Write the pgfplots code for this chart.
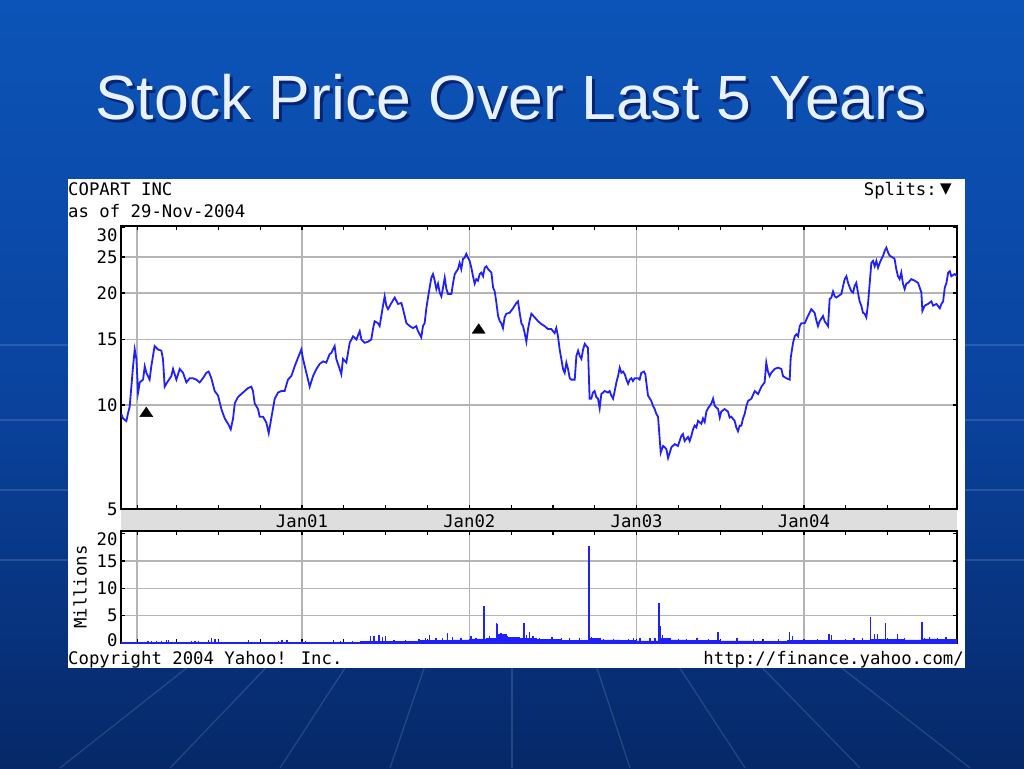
\documentclass[border=0pt]{standalone}
\usepackage{fontspec}
\setmainfont{Liberation Sans}
\newfontfamily\ymono{DejaVu Sans Mono}
\newfontfamily\dejavu{DejaVu Sans}
\usepackage{pgfplots}
\usepackage{pgfplotstable}
\pgfplotsset{compat=1.18}
\definecolor{bgtop}{RGB}{12,84,184}
\definecolor{bgmid}{RGB}{10,68,160}
\definecolor{bgbot}{RGB}{6,40,104}
\definecolor{yblue}{RGB}{32,32,250}
\definecolor{ygrid}{RGB}{180,180,180}
\definecolor{yband}{RGB}{222,222,222}
\definecolor{titlecol}{RGB}{232,242,255}
\newcommand{\yf}{\ymono\fontsize{17.3}{20}\selectfont}

\pgfplotstableread{
year price
1999.920 9.46
1999.930 9.2
1999.950 9.05
1999.960 9.5
1999.970 9.9
1999.980 11.2
1999.990 12.7
2000.000 14.1
2000.010 13.3
2000.020 10.8
2000.030 11.5
2000.050 11.7
2000.060 12.7
2000.070 12.2
2000.089 11.7
2000.099 12.7
2000.119 14.4
2000.139 14.1
2000.159 14.0
2000.169 13.3
2000.179 11.2
2000.199 11.6
2000.219 11.96
2000.229 12.5
2000.249 11.7
2000.269 12.5
2000.289 12.2
2000.309 11.5
2000.329 11.8
2000.348 11.8
2000.368 11.7
2000.388 11.5
2000.408 11.8
2000.428 12.2
2000.442 12.3
2000.458 11.8
2000.478 10.9
2000.498 10.6
2000.518 9.75
2000.538 9.2
2000.558 8.9
2000.574 8.6
2000.588 9.2
2000.598 10.1
2000.617 10.5
2000.637 10.7
2000.657 10.9
2000.677 11.1
2000.697 11.2
2000.707 10.9
2000.717 10.1
2000.737 9.75
2000.747 9.3
2000.767 9.3
2000.787 8.96
2000.801 8.4
2000.817 9.25
2000.837 10.4
2000.857 10.8
2000.876 10.9
2000.896 10.9
2000.916 11.7
2000.936 11.96
2000.956 12.7
2000.976 13.4
2000.996 14.1
2001.006 13.3
2001.026 12.2
2001.046 11.2
2001.066 11.96
2001.086 12.5
2001.106 12.9
2001.126 13.1
2001.145 13.0
2001.165 13.7
2001.175 13.8
2001.185 14.1
2001.195 14.4
2001.205 13.3
2001.225 12.5
2001.235 12.1
2001.245 13.3
2001.265 13.0
2001.285 14.7
2001.305 15.3
2001.325 15.0
2001.345 15.8
2001.355 15.0
2001.375 14.7
2001.395 14.8
2001.414 15.0
2001.424 16.0
2001.434 16.8
2001.454 16.6
2001.464 16.3
2001.474 17.35
2001.484 18.5
2001.494 19.6
2001.504 18.5
2001.514 18.1
2001.534 18.8
2001.554 19.45
2001.574 18.7
2001.594 18.8
2001.604 18.1
2001.624 16.6
2001.644 16.3
2001.663 16.1
2001.683 16.3
2001.693 15.8
2001.713 15.2
2001.723 16.3
2001.733 16.6
2001.743 18.2
2001.753 19.45
2001.763 20.7
2001.773 22.0
2001.783 22.5
2001.793 21.6
2001.803 20.5
2001.813 21.2
2001.823 20.05
2001.833 19.6
2001.843 20.7
2001.853 22.0
2001.863 20.5
2001.873 19.9
2001.893 19.9
2001.903 21.3
2001.913 22.5
2001.932 23.2
2001.942 24.1
2001.952 23.2
2001.962 24.7
2001.972 24.9
2001.982 25.5
2001.992 24.9
2002.002 24.4
2002.012 23.4
2002.022 22.2
2002.032 21.2
2002.042 21.8
2002.052 21.6
2002.062 22.5
2002.072 22.7
2002.082 22.2
2002.092 23.4
2002.102 23.6
2002.112 23.2
2002.132 22.7
2002.142 20.7
2002.152 20.2
2002.162 18.8
2002.172 17.35
2002.182 16.8
2002.191 16.6
2002.201 16.1
2002.211 17.2
2002.221 17.6
2002.241 17.7
2002.261 18.2
2002.281 18.8
2002.291 19.0
2002.301 17.7
2002.311 16.6
2002.321 16.3
2002.331 15.6
2002.341 14.8
2002.351 16.0
2002.361 16.9
2002.371 17.6
2002.391 17.2
2002.411 16.8
2002.431 16.5
2002.450 16.3
2002.470 16.0
2002.490 16.0
2002.510 15.6
2002.520 16.1
2002.530 15.3
2002.540 14.1
2002.550 13.3
2002.560 12.5
2002.570 12.2
2002.580 13.0
2002.590 12.5
2002.600 11.8
2002.610 11.7
2002.630 11.7
2002.640 13.55
2002.650 14.0
2002.660 13.55
2002.670 13.3
2002.680 14.1
2002.690 14.6
2002.700 14.4
2002.709 14.25
2002.719 10.4
2002.729 10.4
2002.739 10.8
2002.749 10.9
2002.759 10.5
2002.769 10.4
2002.779 9.8
2002.789 10.7
2002.809 10.9
2002.829 10.8
2002.839 10.9
2002.849 10.6
2002.859 10.4
2002.869 10.9
2002.879 11.5
2002.889 11.96
2002.899 12.6
2002.909 12.2
2002.919 12.3
2002.929 12.1
2002.939 11.7
2002.949 11.4
2002.959 11.7
2002.969 11.8
2002.978 11.6
2002.988 11.8
2003.008 11.8
2003.018 11.7
2003.028 12.2
2003.044 12.3
2003.052 12.1
2003.058 11.5
2003.068 10.6
2003.088 10.25
2003.098 9.94
2003.108 9.75
2003.118 9.46
2003.128 9.3
2003.138 8.1
2003.144 7.44
2003.158 7.76
2003.168 7.7
2003.178 7.6
2003.188 7.2
2003.198 7.44
2003.208 7.7
2003.228 7.85
2003.247 7.76
2003.267 8.25
2003.277 8.35
2003.287 8.0
2003.307 8.2
2003.317 8.0
2003.327 8.25
2003.337 8.6
2003.347 8.8
2003.357 8.7
2003.367 9.06
2003.387 8.9
2003.397 9.2
2003.407 9.0
2003.417 9.6
2003.427 9.8
2003.437 9.94
2003.447 10.1
2003.457 10.4
2003.467 9.94
2003.487 9.75
2003.497 9.25
2003.506 9.6
2003.526 9.75
2003.546 9.6
2003.556 9.25
2003.566 9.3
2003.586 9.06
2003.596 8.7
2003.606 8.5
2003.616 8.8
2003.626 8.8
2003.636 9.2
2003.646 9.46
2003.656 9.94
2003.666 10.25
2003.686 10.4
2003.706 10.9
2003.726 10.7
2003.746 11.2
2003.765 11.5
2003.775 13.0
2003.785 12.3
2003.795 11.96
2003.805 12.2
2003.825 12.5
2003.845 12.6
2003.865 12.5
2003.875 11.96
2003.895 11.8
2003.915 11.7
2003.921 13.4
2003.935 14.7
2003.945 15.3
2003.955 15.5
2003.965 15.3
2003.975 16.3
2003.985 16.6
2004.005 16.6
2004.024 17.35
2004.044 18.1
2004.064 17.7
2004.074 16.9
2004.084 16.3
2004.094 16.8
2004.114 17.35
2004.124 16.8
2004.144 16.3
2004.154 19.3
2004.164 19.45
2004.174 20.2
2004.184 19.6
2004.194 19.45
2004.204 19.6
2004.224 19.9
2004.234 20.9
2004.244 21.8
2004.254 22.2
2004.264 21.3
2004.274 20.7
2004.284 20.2
2004.294 20.05
2004.303 20.9
2004.313 21.3
2004.323 20.05
2004.333 19.0
2004.343 18.5
2004.353 17.7
2004.363 17.6
2004.373 17.2
2004.383 18.7
2004.393 21.2
2004.403 24.1
2004.413 24.4
2004.423 23.6
2004.433 24.4
2004.443 23.4
2004.453 24.1
2004.463 24.7
2004.473 25.2
2004.483 26.0
2004.493 26.5
2004.503 25.7
2004.513 25.2
2004.533 24.9
2004.542 24.7
2004.552 23.2
2004.562 22.2
2004.572 21.8
2004.582 22.7
2004.592 21.2
2004.602 20.5
2004.612 21.2
2004.622 21.3
2004.642 21.8
2004.662 21.6
2004.682 21.3
2004.692 20.7
2004.702 20.05
2004.708 17.9
2004.722 18.5
2004.742 18.7
2004.762 19.0
2004.772 18.5
2004.792 18.7
2004.812 18.2
2004.822 18.7
2004.832 19.0
2004.842 20.7
2004.852 21.3
2004.862 22.7
2004.872 22.9
2004.881 22.2
2004.901 22.5
2004.915 22.2
}\pricedata

\pgfplotstableread{
year vol
1999.918 0.05
2001.15 0.15
2001.35 0.3
2001.55 0.35
2001.70 0.45
2001.90 0.55
2002.00 0.75
2002.10 0.9
2002.17 1.6
2002.22 1.0
2002.30 0.8
2002.40 0.6
2002.55 0.5
2002.72 0.8
2002.78 0.55
2002.90 0.45
2003.00 0.4
2003.14 0.9
2003.19 0.55
2003.30 0.45
2003.50 0.4
2003.70 0.35
2003.90 0.45
2004.00 0.5
2004.20 0.45
2004.40 0.6
2004.50 0.7
2004.60 0.55
2004.70 0.75
2004.80 0.6
2004.915 0.6
}\volbase

\pgfplotstableread{
year vol
2000.08 0.4
2000.10 0.3
2000.13 0.45
2000.16 0.3
2000.19 0.5
2000.20 0.6
2000.34 0.4
2000.36 0.3
2000.38 0.4
2000.44 0.6
2000.46 1.0
2000.48 0.7
2000.50 0.5
2000.68 0.6
2000.86 0.4
2000.88 0.5
2000.91 0.6
2001.00 0.4
2001.02 0.3
2001.19 0.5
2001.23 0.4
2001.30 0.4
2001.41 1.2
2001.43 1.3
2001.46 1.4
2001.48 1.1
2001.50 1.3
2001.55 0.6
2001.62 0.5
2001.70 0.8
2001.74 1.0
2001.76 1.5
2001.80 0.9
2001.84 1.0
2001.87 1.8
2001.90 1.1
2001.95 0.9
2002.01 1.2
2002.04 1.0
2002.088 6.8
2002.12 1.2
2002.161 3.7
2002.17 3.4
2002.19 1.8
2002.21 1.5
2002.23 1.2
2002.26 1.0
2002.29 1.1
2002.327 3.7
2002.34 1.4
2002.36 2.0
2002.38 1.2
2002.42 0.9
2002.494 1.1
2002.55 0.9
2002.60 1.0
2002.66 1.0
2002.716 17.7
2002.73 1.1
2002.76 1.0
2002.80 0.8
2002.86 0.7
2002.95 0.8
2002.98 1.0
2003.02 1.0
2003.08 0.9
2003.11 1.0
2003.134 7.3
2003.144 3.2
2003.155 1.4
2003.20 0.9
2003.25 0.8
2003.30 0.8
2003.36 0.9
2003.43 0.8
2003.487 2.0
2003.60 0.9
2003.70 0.7
2003.76 0.7
2003.85 0.8
2003.915 2.0
2003.93 1.2
2004.00 0.7
2004.08 0.8
2004.150 1.7
2004.165 1.4
2004.25 0.8
2004.30 0.9
2004.35 1.0
2004.399 4.7
2004.42 1.7
2004.44 1.7
2004.487 3.6
2004.50 1.0
2004.559 1.7
2004.60 1.0
2004.706 3.9
2004.72 1.0
2004.75 1.1
2004.80 0.9
2004.85 1.1
2004.88 0.8
}\volspikes

\pgfplotsset{ychart/.style={
  scale only axis, width=836pt,
  xmin=1999.918, xmax=2004.915,
  xtick={2000.015,2001,2002,2003,2004},
  minor xtick={2000.25,2000.5,2000.75,2001.25,2001.5,2001.75,2002.25,2002.5,2002.75,2003.25,2003.5,2003.75,2004.25,2004.5,2004.75},
  tick align=inside, major tick length=4pt, minor tick length=4pt,
  tick style={black, line width=1.2pt},
  grid=major, major grid style={ygrid, line width=1.5pt},
  axis line style={black, line width=1.8pt},
  every tick label/.append style={font=\yf, text=black, inner ysep=0.5pt},
}}

\begin{document}
\begin{tikzpicture}[x=1pt,y=1pt]
\useasboundingbox (0,0) rectangle (1024,768);
\shade[top color=bgtop, bottom color=bgbot, middle color=bgmid] (0,0) rectangle (1024,768);
\begin{scope}[draw=white, opacity=0.13, line width=1.3pt]
  \foreach \yy in {423,348,278,208} {\draw (0,\yy) -- (1024,\yy);}
  \foreach \xb in {60,170,280,390,512,630,745,860,970} {\draw (512+0.72*\xb-0.72*512,100) -- (\xb,0);}
\end{scope}
\node[anchor=base, inner sep=0, font=\fontsize{62.5}{70}\selectfont, text=black!75!blue, opacity=0.55] at (514,645) {Stock Price Over Last 5 Years};
\node[anchor=base, inner sep=0, font=\fontsize{62.5}{70}\selectfont, text=titlecol] at (511,648) {Stock Price Over Last 5 Years};
\fill[white] (68,100) rectangle (965,589);
\fill[yband] (121,237) rectangle (957,259);
\node[anchor=base west, inner sep=0, font=\yf] at (68,572) {COPART INC};
\node[anchor=base west, inner sep=0, font=\yf] at (68,550) {as of 29-Nov-2004};
\node[anchor=base east, inner sep=0, font=\yf] at (937,572) {Splits:};
\node[anchor=base west, inner sep=0, font=\dejavu\fontsize{15}{18}\selectfont] at (940,574) {▼};
\node[anchor=base west, inner sep=0, font=\yf] at (68,104) {Copyright 2004 Yahoo! Inc.};
\node[anchor=base east, inner sep=0, font=\yf] at (964,104) {http://finance.yahoo.com/};

\begin{axis}[ychart, at={(121pt,259pt)}, anchor=south west, height=283pt,
  ymode=log, ymin=5.25, ymax=30.3,
  ytick={5.25,10,15,20,25}, yticklabels={5,10,15,20,25},
  extra y ticks={30}, extra y tick labels={30},
  extra y tick style={grid=none, yticklabel style={yshift=-8pt}},
  xticklabels={,Jan01,Jan02,Jan03,Jan04},
  xticklabel style={anchor=center, yshift=-12pt},
]
\addplot[yblue, line width=1.8pt] table[x=year, y=price] {\pricedata};
\addplot[only marks, mark=triangle*, mark size=7.5pt, mark options={fill=black, draw=black, yscale=0.85}] coordinates {(2000.069,9.49) (2002.056,15.9)};
\end{axis}

\begin{axis}[ychart, at={(121pt,125pt)}, anchor=south west, height=112pt,
  ymin=0, ymax=20.5,
  ytick={0,5,10,15}, yticklabels={\raisebox{3pt}[\height][\depth]{0},5,10,15},
  extra y ticks={20}, extra y tick labels={20},
  extra y tick style={grid=none, yticklabel style={yshift=-5pt}},
  xticklabels={},
  ylabel={Millions},
  every axis y label/.style={at={(axis description cs:-0.049,0.5)}, rotate=90, anchor=center, font=\yf},
]
\addplot[const plot, fill=yblue, draw=yblue, line width=0.6pt] table[x=year, y=vol] {\volbase} \closedcycle;
\addplot[ycomb, yblue, line width=1.3pt] table[x=year, y=vol] {\volspikes};
\end{axis}
\end{tikzpicture}
\end{document}
